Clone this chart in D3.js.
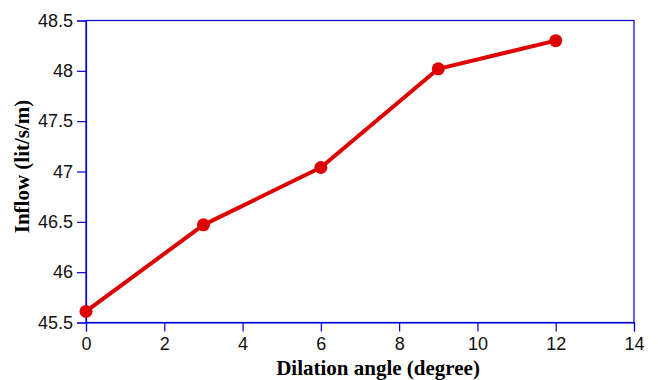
<!DOCTYPE html>
<html>
<head>
<meta charset="utf-8">
<script src="https://cdn.jsdelivr.net/npm/d3@7"></script>
<style>
  body { margin: 0; background: #fff; }
</style>
</head>
<body>
<svg id="chart"></svg>
<script>
// data
const angles = [0, 3, 6, 9, 12];
const inflow = [45.61, 46.47, 47.04, 48.02, 48.30];
const xTicks = [0, 2, 4, 6, 8, 10, 12, 14];
const yTicks = [45.5, 46, 46.5, 47, 47.5, 48, 48.5];

const width = 658, height = 380;
const margin = { top: 20.5, right: 24, bottom: 57.5, left: 86 };

const svg = d3.select("#chart")
    .attr("width", width)
    .attr("height", height);

const x = d3.scaleLinear()
    .domain([0, 14])
    .range([margin.left, width - margin.right]);

const y = d3.scaleLinear()
    .domain([45.5, 48.5])
    .range([height - margin.bottom, margin.top]);

const axisColor = "#0000dd";

// frame
svg.append("rect")
    .attr("x", margin.left)
    .attr("y", margin.top)
    .attr("width", x(14) - x(0))
    .attr("height", y(45.5) - y(48.5))
    .attr("fill", "none")
    .attr("stroke", axisColor)
    .attr("stroke-width", 1.2);

const xAxis = svg.append("g")
    .attr("transform", `translate(0,${y(45.5)})`)
    .call(d3.axisBottom(x).tickValues(xTicks).tickSize(9).tickPadding(6).tickFormat(d3.format("d")));

const yAxis = svg.append("g")
    .attr("transform", `translate(${x(0)},0)`)
    .call(d3.axisLeft(y).tickValues(yTicks).tickSize(9).tickPadding(4).tickFormat(d => d));

[xAxis, yAxis].forEach(g => {
    g.select(".domain").attr("stroke", axisColor).attr("stroke-width", 1.2);
    g.selectAll(".tick line").attr("stroke", axisColor).attr("stroke-width", 1.2);
    g.selectAll(".tick text")
        .attr("fill", "#111")
        .style("font-family", "Liberation Sans, Arial, sans-serif")
        .style("font-size", "18px");
});

// axis titles
svg.append("text")
    .attr("x", 378)
    .attr("y", 375)
    .attr("text-anchor", "middle")
    .style("font-family", "Liberation Serif, Times New Roman, serif")
    .style("font-weight", "bold")
    .style("font-size", "21px")
    .text("Dilation angle (degree)");

svg.append("text")
    .attr("transform", `translate(29,${(y(45.5) + y(48.5)) / 2 - 5}) rotate(-90)`)
    .attr("text-anchor", "middle")
    .style("font-family", "Liberation Serif, Times New Roman, serif")
    .style("font-weight", "bold")
    .style("font-size", "21px")
    .text("Inflow (lit/s/m)");

// series
const pts = angles.map((a, i) => ({ a, v: inflow[i] }));

svg.append("path")
    .datum(pts)
    .attr("fill", "none")
    .attr("stroke", "#dd0000")
    .attr("stroke-width", 4)
    .attr("stroke-linejoin", "round")
    .attr("d", d3.line().x(d => x(d.a)).y(d => y(d.v)));

svg.append("g")
    .selectAll("circle")
    .data(pts)
    .join("circle")
    .attr("cx", d => x(d.a))
    .attr("cy", d => y(d.v))
    .attr("r", 6.5)
    .attr("fill", "#dd0000");
</script>
</body>
</html>
